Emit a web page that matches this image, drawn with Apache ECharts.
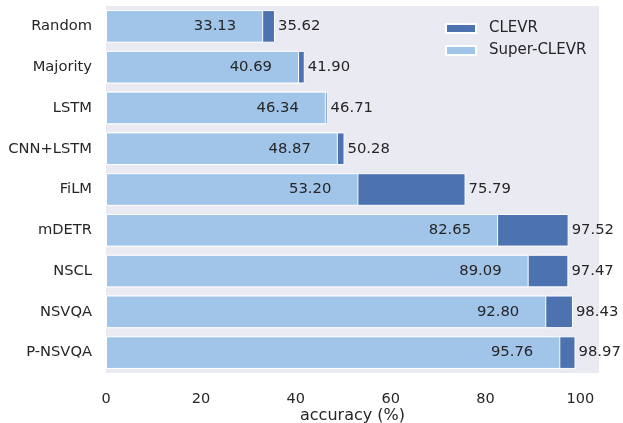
<!DOCTYPE html>
<html>
<head>
<meta charset="utf-8">
<script src="https://cdn.jsdelivr.net/npm/echarts@6/dist/echarts.min.js"></script>
<style>html,body{margin:0;padding:0;background:#fff}#c{width:623px;height:423px}</style>
</head>
<body>
<div id="c"></div>
<script>
const categories = ['Random','Majority','LSTM','CNN+LSTM','FiLM','mDETR','NSCL','NSVQA','P-NSVQA'];
const clevr = [35.62, 41.90, 46.71, 50.28, 75.79, 97.52, 97.47, 98.43, 98.97];
const superClevr = [33.13, 40.69, 46.34, 48.87, 53.20, 82.65, 89.09, 92.80, 95.76];
const xTicks = [0, 20, 40, 60, 80, 100];

const FONT = 'DejaVu Sans';
const TXT = '#262626';
const chart = echarts.init(document.getElementById('c'));
chart.setOption({
  animation: false,
  textStyle: {fontFamily: FONT},
  grid: {left: 106, right: 24, top: 6, bottom: 50, show: true, backgroundColor: '#EAEAF2', borderWidth: 0,
    containLabel: false, outerBoundsMode: 'none'},
  legend: {
    orient: 'vertical', left: 440, top: 16, itemWidth: 30, itemHeight: 9, itemGap: 7,
    icon: 'rect',
    textStyle: {fontFamily: FONT, fontSize: 15, color: TXT, padding: [0, 0, 0, 8]},
    data: ['CLEVR', 'Super-CLEVR']
  },
  xAxis: {
    type: 'value', min: 0, max: 103.92, interval: 20,
    axisLine: {show: false}, axisTick: {show: false}, splitLine: {show: false},
    axisLabel: {fontFamily: FONT, fontSize: 14.5, color: TXT, margin: 19,
      formatter: v => xTicks.includes(v) ? String(v) : ''},
    name: 'accuracy (%)', nameLocation: 'middle', nameGap: 35, nameMoveOverlap: false,
    nameTextStyle: {fontFamily: FONT, fontSize: 16, color: TXT}
  },
  yAxis: {
    type: 'category', data: categories, inverse: true,
    axisLine: {show: false}, axisTick: {show: false}, splitLine: {show: false},
    axisLabel: {fontFamily: FONT, fontSize: 14.7, color: TXT, margin: 14}
  },
  series: [
    {
      name: 'CLEVR', type: 'bar', data: clevr, barWidth: '80%', barGap: '-100%',
      itemStyle: {color: '#4C72B0', borderColor: '#fff', borderWidth: 1},
      label: {show: true, position: 'right', distance: 3, fontFamily: FONT, fontSize: 14.8, color: TXT,
        formatter: p => p.value.toFixed(2)}
    },
    {
      name: 'Super-CLEVR', type: 'bar', data: superClevr, barWidth: '80%', barGap: '-100%',
      itemStyle: {color: '#A1C4E9', borderColor: '#fff', borderWidth: 1},
      label: {show: true, position: 'insideRight', distance: 27, fontFamily: FONT, fontSize: 14.8, color: TXT,
        formatter: p => p.value.toFixed(2)}
    }
  ]
});
</script>
</body>
</html>
